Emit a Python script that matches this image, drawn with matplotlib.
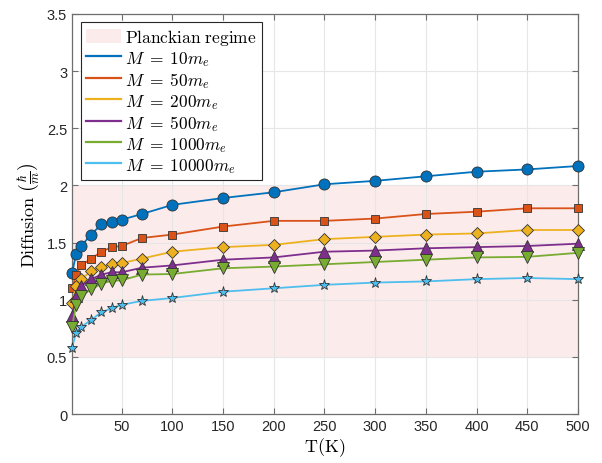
import numpy as np
import matplotlib
matplotlib.use("Agg")
import matplotlib.pyplot as plt
from matplotlib.lines import Line2D
from matplotlib.patches import Patch

plt.rcParams['font.family'] = ['Liberation Sans', 'DejaVu Sans']
plt.rcParams['mathtext.fontset'] = 'cm'

# temperatures (K)
T = [1, 5, 10, 20, 30, 40, 50, 70, 100, 150, 200, 250, 300, 350, 400, 450, 500]

# diffusion in units of hbar/m
D_10 = [1.23, 1.40, 1.47, 1.57, 1.66, 1.68, 1.70, 1.75, 1.83, 1.89,
        1.94, 2.01, 2.04, 2.08, 2.12, 2.14, 2.17]
D_50 = [1.10, 1.22, 1.30, 1.36, 1.42, 1.46, 1.47, 1.54, 1.57, 1.64,
        1.69, 1.69, 1.71, 1.75, 1.77, 1.80, 1.80]
D_200 = [0.97, 1.12, 1.18, 1.25, 1.29, 1.31, 1.32, 1.36, 1.42, 1.46,
         1.48, 1.53, 1.55, 1.57, 1.58, 1.61, 1.61]
D_500 = [0.86, 1.035, 1.12, 1.18, 1.22, 1.24, 1.24, 1.28, 1.30, 1.35,
         1.37, 1.42, 1.43, 1.45, 1.46, 1.47, 1.49]
D_1000 = [0.76, 0.955, 1.035, 1.09, 1.14, 1.165, 1.17, 1.22, 1.225, 1.275,
          1.29, 1.31, 1.33, 1.35, 1.37, 1.375, 1.41]
D_10000 = [0.58, 0.71, 0.76, 0.825, 0.89, 0.925, 0.955, 0.99, 1.015, 1.07,
           1.10, 1.13, 1.15, 1.16, 1.18, 1.19, 1.18]

labels = [r'$M\;=\;10m_e$', r'$M\;=\;50m_e$', r'$M\;=\;200m_e$',
          r'$M\;=\;500m_e$', r'$M\;=\;1000m_e$', r'$M\;=\;10000m_e$']
series = [D_10, D_50, D_200, D_500, D_1000, D_10000]
colors = ['#0072BD', '#D95319', '#EDB120', '#7E2F8E', '#77AC30', '#4DBEEE']
markers = ['o', 's', 'D', '^', 'v', '*']
msizes = [8, 6, 6.5, 8.5, 8.5, 8]

planck_lo, planck_hi = 0.5, 2.0

fig = plt.figure(figsize=(6.02, 4.64), dpi=100)
ax = fig.add_axes([0.1196, 0.1056, 0.8405, 0.8621])

ax.axhspan(planck_lo, planck_hi, color='#fcebeb', zorder=0, lw=0)

for y, c, m, ms in zip(series, colors, markers, msizes):
    ax.plot(T, y, color=c, lw=1.3, marker=m, ms=ms, mfc=c,
            mec='#333333', mew=0.6, zorder=3, clip_on=False)

ax.set_xlim(1, 500)
ax.set_ylim(0, 3.5)
ax.set_xticks(np.arange(50, 501, 50))
ax.set_yticks(np.arange(0, 3.51, 0.5))
ax.set_yticklabels(['0', '0.5', '1', '1.5', '2', '2.5', '3', '3.5'])
ax.grid(True, color='#e6e6e6', lw=0.8, zorder=1)
ax.set_axisbelow(True)
ax.tick_params(direction='in', length=4, width=0.8, color='#6e6e6e',
               labelcolor='#262626', labelsize=10.5, top=True, right=True)
for s in ax.spines.values():
    s.set_color('#6e6e6e')
    s.set_linewidth(0.9)

ax.set_xlabel(r'$\mathrm{T(K)}$', fontsize=13, labelpad=2)
ax.set_ylabel(r'$\mathrm{Diffusion}\ \left(\frac{\hbar}{m}\right)$', fontsize=13, labelpad=4)

handles = [Patch(facecolor='#fcebeb', edgecolor='none', label=r'$\mathrm{Planckian\ regime}$')]
for c, lab in zip(colors, labels):
    handles.append(Line2D([], [], color=c, lw=1.6, label=lab))
leg = ax.legend(handles=handles, loc='upper left', fontsize=12.5,
                bbox_to_anchor=(0.017, 0.981), borderaxespad=0,
                fancybox=False, edgecolor='#262626', framealpha=1,
                handlelength=2.0, handleheight=0.9, handletextpad=0.25,
                labelspacing=0.12, borderpad=0.3)
leg.get_frame().set_linewidth(0.8)

fig.savefig('out.png', dpi=100)
